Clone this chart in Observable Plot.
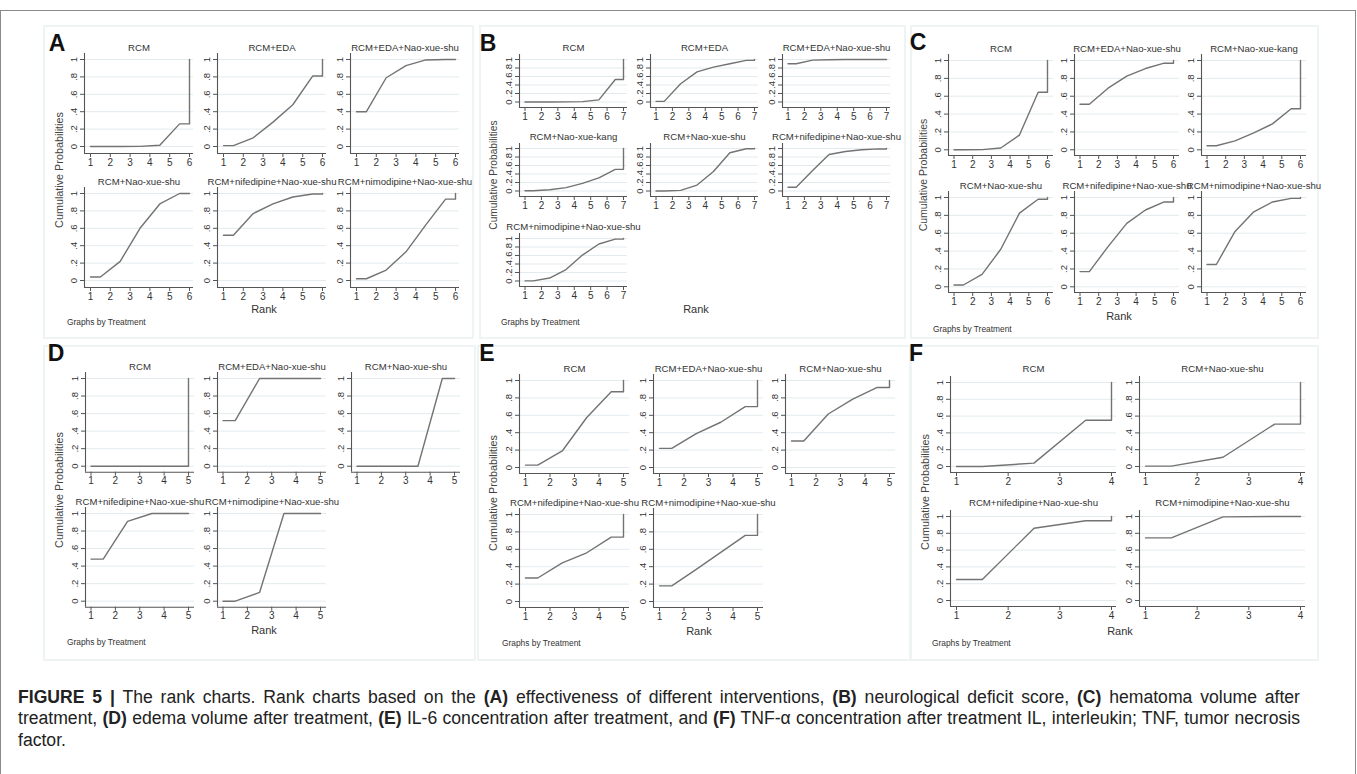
<!DOCTYPE html>
<html>
<head>
<meta charset="utf-8">
<script src="https://cdn.jsdelivr.net/npm/d3@7"></script>
<script src="https://cdn.jsdelivr.net/npm/@observablehq/plot@0.6"></script>
<style>
  html, body { margin: 0; padding: 0; background: #fff; }
  body { width: 1357px; height: 774px; overflow: hidden; position: relative;
         font-family: "Liberation Sans", Arial, Helvetica, sans-serif; }
  .outer { position: absolute; left: 0; top: 10px; width: 1354px; height: 800px;
           border: 1px solid #8a8a8a; }
  .panel { position: absolute; background: #fff; border: 2px solid #eef3f4; box-sizing: border-box; }
  .letter { position: absolute; font-weight: bold; font-size: 23px; color: #111; transform: translate(-50%, -50%); }
  .ylab { position: absolute; font-size: 10.5px; color: #444; transform: translate(-50%, -50%) rotate(-90deg); white-space: nowrap; }
  .xlab { position: absolute; font-size: 11px; color: #333; transform: translate(-50%, -50%); }
  .note { position: absolute; font-size: 8.4px; color: #333; transform: translateY(-50%); white-space: nowrap; }
  .caption { position: absolute; left: 18px; top: 687px; width: 1282px; font-size: 17.6px; line-height: 21.4px; color: #222; }
  .caption .ln { white-space: nowrap; text-align: justify; text-align-last: justify; }
  .caption .last { text-align: left; text-align-last: left; }
  .caption b { font-weight: bold; }
</style>
</head>
<body>
<div class="outer"></div>
<div class="caption">
  <div class="ln"><b>FIGURE 5 |</b> The rank charts. Rank charts based on the <b>(A)</b> effectiveness of different interventions, <b>(B)</b> neurological deficit score, <b>(C)</b> hematoma volume after</div>
  <div class="ln">treatment, <b>(D)</b> edema volume after treatment, <b>(E)</b> IL-6 concentration after treatment, and <b>(F)</b> TNF-α concentration after treatment IL, interleukin; TNF, tumor necrosis</div>
  <div class="ln last">factor.</div>
</div>
<script>
// ---------------- DATA ----------------
// cumulative probability of ranking within the first k positions (k = 1 .. n-1); rank n is always 1
const yTickValues = [0, 0.2, 0.4, 0.6, 0.8, 1];

const ranksA = [1, 2, 3, 4, 5, 6];
const treatmentsA = ["RCM", "RCM+EDA", "RCM+EDA+Nao-xue-shu", "RCM+Nao-xue-shu", "RCM+nifedipine+Nao-xue-shu", "RCM+nimodipine+Nao-xue-shu"];
const cumA = [
  [0, 0, 0.002, 0.015, 0.26],
  [0.01, 0.10, 0.28, 0.48, 0.81],
  [0.40, 0.79, 0.93, 0.995, 1],
  [0.04, 0.22, 0.60, 0.88, 1.0],
  [0.52, 0.77, 0.88, 0.96, 0.995],
  [0.02, 0.12, 0.33, 0.64, 0.935]
];

const ranksB = [1, 2, 3, 4, 5, 6, 7];
const treatmentsB = ["RCM", "RCM+EDA", "RCM+EDA+Nao-xue-shu", "RCM+Nao-xue-kang", "RCM+Nao-xue-shu", "RCM+nifedipine+Nao-xue-shu", "RCM+nimodipine+Nao-xue-shu"];
const cumB = [
  [0, 0, 0.002, 0.008, 0.05, 0.53],
  [0.015, 0.43, 0.71, 0.82, 0.90, 0.98],
  [0.90, 0.985, 0.995, 1, 1, 1],
  [0.005, 0.03, 0.08, 0.18, 0.31, 0.51],
  [0, 0.015, 0.14, 0.46, 0.90, 0.995],
  [0.09, 0.48, 0.86, 0.93, 0.97, 0.99],
  [0.003, 0.07, 0.27, 0.61, 0.87, 0.985]
];

const ranksC = [1, 2, 3, 4, 5, 6];
const treatmentsC = ["RCM", "RCM+EDA+Nao-xue-shu", "RCM+Nao-xue-kang", "RCM+Nao-xue-shu", "RCM+nifedipine+Nao-xue-shu", "RCM+nimodipine+Nao-xue-shu"];
const cumC = [
  [0, 0.002, 0.02, 0.165, 0.645],
  [0.51, 0.69, 0.825, 0.91, 0.97],
  [0.045, 0.10, 0.19, 0.29, 0.46],
  [0.02, 0.14, 0.42, 0.825, 0.98],
  [0.17, 0.45, 0.71, 0.86, 0.95],
  [0.25, 0.62, 0.84, 0.95, 0.99]
];

const ranksD = [1, 2, 3, 4, 5];
const treatmentsD = ["RCM", "RCM+EDA+Nao-xue-shu", "RCM+Nao-xue-shu", "RCM+nifedipine+Nao-xue-shu", "RCM+nimodipine+Nao-xue-shu"];
const cumD = [
  [0, 0, 0, 0],
  [0.52, 1, 1, 1],
  [0, 0, 0, 1],
  [0.48, 0.91, 1, 1],
  [0, 0.10, 1, 1]
];

const ranksE = [1, 2, 3, 4, 5];
const treatmentsE = ["RCM", "RCM+EDA+Nao-xue-shu", "RCM+Nao-xue-shu", "RCM+nifedipine+Nao-xue-shu", "RCM+nimodipine+Nao-xue-shu"];
const cumE = [
  [0.027, 0.19, 0.575, 0.87],
  [0.22, 0.39, 0.52, 0.70],
  [0.305, 0.615, 0.785, 0.92],
  [0.27, 0.445, 0.56, 0.74],
  [0.18, 0.37, 0.565, 0.76]
];

const ranksF = [1, 2, 3, 4];
const treatmentsF = ["RCM", "RCM+Nao-xue-shu", "RCM+nifedipine+Nao-xue-shu", "RCM+nimodipine+Nao-xue-shu"];
const cumF = [
  [0, 0.04, 0.55],
  [0.005, 0.11, 0.505],
  [0.25, 0.86, 0.95],
  [0.745, 0.995, 1.0]
];

// ---------------- LAYOUT ----------------
const panels = [
  {letter: "A", ranks: ranksA, names: treatmentsA, cum: cumA, box: [43, 25, 431, 314],
   cols: [84, 217, 350], rows: [53, 187], fw: 109, fh: 100, inL: 6, inR: 4, inT: 6, inB: 7, tdy: -6,
   letterPos: [57, 43], ylab: [59, 170, 10.8], xlab: [264, 309], note: [67, 322]},
  {letter: "B", ranks: ranksB, names: treatmentsB, cum: cumB, box: [479, 25, 427, 314],
   cols: [519, 650, 782], rows: [54.3, 143.3, 232.7], fw: 108, fh: 53, inL: 5.5, inR: 4, inT: 5, inB: 5.5, tdy: -7,
   letterPos: [488, 43], ylab: [493, 175, 10.2], xlab: [696, 309], note: [501, 322]},
  {letter: "C", ranks: ranksC, names: treatmentsC, cum: cumC, box: [910, 25, 409, 314],
   cols: [948, 1074, 1201], rows: [54, 190.7], fw: 105, fh: 101, inL: 5.5, inR: 6, inT: 6, inB: 5.7, tdy: -6,
   letterPos: [918, 42], ylab: [923, 175, 10.5], xlab: [1119, 316], note: [933, 329]},
  {letter: "D", ranks: ranksD, names: treatmentsD, cum: cumD, box: [43, 345, 433, 316],
   cols: [85, 217, 351], rows: [372, 506.7], fw: 109, fh: 99.7, inL: 5.5, inR: 6, inT: 6, inB: 6, tdy: -6,
   letterPos: [56, 353], ylab: [59, 490, 10.8], xlab: [264, 630], note: [67, 642]},
  {letter: "E", ranks: ranksE, names: treatmentsE, cum: cumE, box: [477, 345, 434, 316],
   cols: [519, 653, 785], rows: [374, 508], fw: 110, fh: 99, inL: 6, inR: 6, inT: 6, inB: 6, tdy: -6,
   letterPos: [487, 353], ylab: [493, 493, 10.8], xlab: [699, 631], note: [502, 643]},
  {letter: "F", ranks: ranksF, names: treatmentsF, cum: cumF, box: [910, 345, 409, 316],
   cols: [950, 1139], rows: [376, 510], fw: 166, fh: 96, inL: 6, inR: 5, inT: 6, inB: 6, tdy: -8,
   letterPos: [916, 353], ylab: [925, 492, 10.8], xlab: [1120, 631], note: [932, 643]}
];

const FONT = '"Liberation Sans", Arial, Helvetica, sans-serif';
const LINE = "#737373";
const AXIS = "#555";
const GRID = "#e3ebee";
const fmtY = d => d === 0 ? "0" : d === 1 ? "1" : String(d).replace("0.", ".");

// Stata rank-plot path: cumulative value of rank k drawn at k+0.5, flat at both ends, jump to 1 at last rank
function rankPath(cum, ranks) {
  const n = ranks[ranks.length - 1];
  const pts = [{rank: ranks[0], p: cum[0]}];
  cum.forEach((c, i) => pts.push({rank: ranks[i] + 0.5, p: c}));
  pts.push({rank: n, p: cum[cum.length - 1]});
  pts.push({rank: n, p: 1});
  return pts;
}

const body = document.body;
function addDiv(cls, text, x, y, extra) {
  const d = document.createElement("div");
  d.className = cls;
  d.textContent = text;
  d.style.left = x + "px";
  d.style.top = y + "px";
  if (extra) Object.assign(d.style, extra);
  body.appendChild(d);
  return d;
}

for (const P of panels) {
  const box = document.createElement("div");
  box.className = "panel";
  Object.assign(box.style, {left: P.box[0] + "px", top: P.box[1] + "px", width: P.box[2] + "px", height: P.box[3] + "px"});
  body.appendChild(box);
}

for (const P of panels) {
  const nCols = P.cols.length;
  const mL = 30, mR = 6, mT = 22, mB = 22;
  P.names.forEach((name, i) => {
    const col = i % nCols, row = Math.floor(i / nCols);
    const n = P.ranks[P.ranks.length - 1];
    const svg = Plot.plot({
      width: mL + P.fw + mR,
      height: mT + P.fh + mB,
      marginLeft: mL, marginRight: mR, marginTop: mT, marginBottom: mB,
      style: {background: "transparent", overflow: "visible", fontFamily: FONT, fontSize: "9.5px", color: AXIS},
      x: {domain: [P.ranks[0], n], insetLeft: P.inL, insetRight: P.inR, axis: null, label: null},
      y: {domain: [0, 1], insetTop: P.inT, insetBottom: P.inB, axis: null, label: null},
      marks: [
        Plot.gridY(yTickValues, {stroke: GRID, strokeOpacity: 1, strokeWidth: 1}),
        Plot.ruleX([P.ranks[0]], {dx: -P.inL, stroke: AXIS, strokeWidth: 1.1}),
        Plot.ruleY([0], {dy: P.inB, stroke: AXIS, strokeWidth: 1.1}),
        Plot.axisY({ticks: yTickValues, tickSize: 4, tickFormat: () => "", stroke: AXIS, label: null}),
        Plot.text(yTickValues, {y: d => d, text: fmtY, frameAnchor: "left", dx: -10.5, rotate: -90,
          textAnchor: "middle", lineAnchor: "middle", fill: "#333", fontSize: 9.5}),
        Plot.axisX({ticks: P.ranks, tickSize: 4, tickPadding: 1, tickFormat: d => String(d), stroke: AXIS, fill: "#333", fontSize: 10, label: null}),
        Plot.line(rankPath(P.cum[i], P.ranks), {x: "rank", y: "p", stroke: LINE, strokeWidth: 1.4, curve: "linear"}),
        Plot.text([name], {text: d => d, frameAnchor: "top", dy: P.tdy, lineAnchor: "middle",
          fill: "#333", fontSize: 9.6})
      ]
    });
    svg.style.position = "absolute";
    svg.style.left = (P.cols[col] - mL) + "px";
    svg.style.top = (P.rows[row] - mT) + "px";
    svg.style.maxWidth = "none";
    body.appendChild(svg);
  });
  addDiv("letter", P.letter, P.letterPos[0], P.letterPos[1]);
  addDiv("ylab", "Cumulative Probabilities", P.ylab[0], P.ylab[1], {fontSize: P.ylab[2] + "px"});
  addDiv("xlab", "Rank", P.xlab[0], P.xlab[1]);
  addDiv("note", "Graphs by Treatment", P.note[0], P.note[1]);
}
</script>
</body>
</html>
